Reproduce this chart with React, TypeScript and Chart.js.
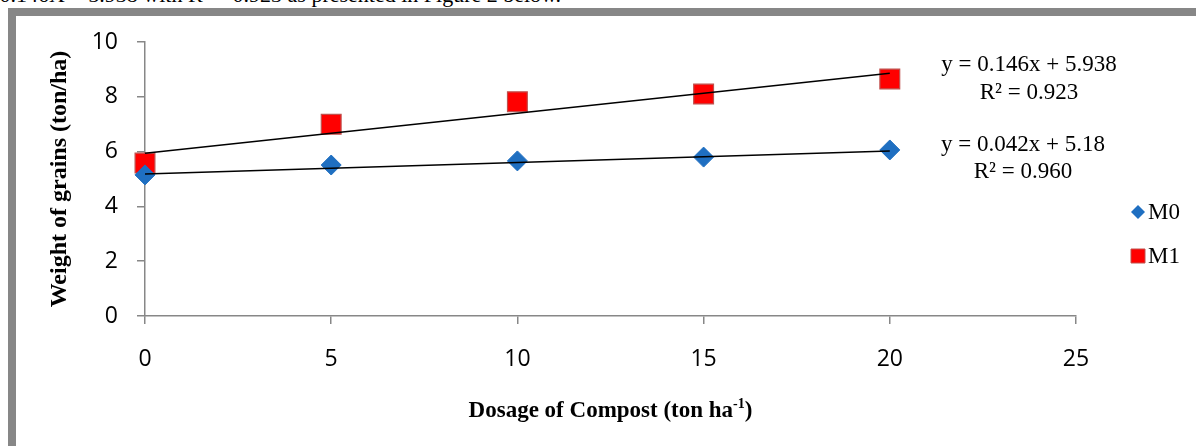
import React, { useEffect, useRef } from 'react';
import { Chart, registerables } from 'chart.js';

Chart.register(...registerables);

// ---- data ----
const doses = [0, 5, 10, 15, 20];
const m0Values = [5.15, 5.51, 5.66, 5.8, 6.06];
const m1Values = [5.58, 7.0, 7.82, 8.1, 8.65];
const trendX = [0, 20];
const trendM0 = [5.18, 6.02];
const trendM1 = [5.938, 8.858];
const seriesNames = ['M0', 'M1'];
const eqM1 = ['y = 0.146x + 5.938', 'R² = 0.923'];
const eqM0 = ['y = 0.042x + 5.18', 'R² = 0.960'];
const xRange = [0, 25];
const yRange = [0, 10];
const xStep = 5;
const yStep = 2;
const yTitle = 'Weight of grains (ton/ha)';
const xTitleMain = 'Dosage of Compost (ton ha';
const xTitleSup = '-1';
const xTitleEnd = ')';
const introText = 'Y = 0.146X + 5.938 with R² = 0.923 as presented in Figure 2 below.';

const BLUE = '#1F6FC1';
const RED = '#FF0000';
const RED_EDGE = '#C0504D';
const AXIS = '#878787';
const SERIF = '"Liberation Serif", "Times New Roman", serif';
const SANS = '"Open Sans", "Noto Sans", sans-serif';

const overlayPlugin = {
  id: 'overlayTexts',
  afterDraw(chart: any) {
    const { ctx, chartArea: a } = chart;
    ctx.save();
    ctx.fillStyle = '#000';
    // y axis title
    ctx.save();
    ctx.font = `bold 24px ${SERIF}`;
    ctx.textAlign = 'center';
    ctx.textBaseline = 'middle';
    ctx.translate(60, (a.top + a.bottom) / 2);
    ctx.rotate(-Math.PI / 2);
    ctx.fillText(yTitle, 0, 0);
    ctx.restore();

    // x axis title with superscript
    const mainFont = `bold 23px ${SERIF}`;
    const supFont = `bold 14px ${SERIF}`;
    ctx.font = mainFont;
    const w1 = ctx.measureText(xTitleMain).width;
    const w3 = ctx.measureText(xTitleEnd).width;
    ctx.font = supFont;
    const w2 = ctx.measureText(xTitleSup).width;
    const total = w1 + w2 + w3;
    let x = (a.left + a.right) / 2 - total / 2;
    const yT = 411;
    ctx.textAlign = 'left';
    ctx.textBaseline = 'middle';
    ctx.font = mainFont;
    ctx.fillText(xTitleMain, x, yT);
    x += w1;
    ctx.font = supFont;
    ctx.fillText(xTitleSup, x, yT - 7);
    x += w2;
    ctx.font = mainFont;
    ctx.fillText(xTitleEnd, x, yT);

    // regression equations
    ctx.font = `23px ${SERIF}`;
    ctx.textAlign = 'center';
    ctx.fillText(eqM1[0], 1029, 65);
    ctx.fillText(eqM1[1], 1029, 93);
    ctx.fillText(eqM0[0], 1023, 145);
    ctx.fillText(eqM0[1], 1023, 172);

    // legend
    const datasets = chart.data.datasets.filter((d: any) => seriesNames.includes(d.label));
    const legendY = [212, 256];
    datasets.forEach((d: any, i: number) => {
      const cy = legendY[i];
      const cx = 1138;
      ctx.fillStyle = d.backgroundColor;
      ctx.beginPath();
      if (d.pointStyle === 'rectRot') {
        const r = 7;
        ctx.moveTo(cx, cy - r);
        ctx.lineTo(cx + r, cy);
        ctx.lineTo(cx, cy + r);
        ctx.lineTo(cx - r, cy);
        ctx.closePath();
        ctx.fill();
      } else {
        const h = 7;
        ctx.rect(cx - h, cy - h, 2 * h, 2 * h);
        ctx.fill();
        ctx.strokeStyle = d.borderColor;
        ctx.lineWidth = 1;
        ctx.stroke();
      }
      ctx.fillStyle = '#000';
      ctx.font = `23px ${SERIF}`;
      ctx.textAlign = 'left';
      ctx.textBaseline = 'middle';
      ctx.fillText(d.label, 1148, cy + 1);
    });
    ctx.restore();
  },
};

export default function App() {
  const canvasRef = useRef<HTMLCanvasElement>(null);

  useEffect(() => {
    const canvas = canvasRef.current;
    if (!canvas) return;
    const chart = new Chart(canvas, {
      type: 'scatter',
      data: {
        datasets: [
          {
            label: 'trend M1',
            type: 'line',
            data: trendX.map((x, i) => ({ x, y: trendM1[i] })),
            borderColor: '#000',
            borderWidth: 1.6,
            pointRadius: 0,
            showLine: true,
            clip: false,
            order: 0,
          } as any,
          {
            label: 'trend M0',
            type: 'line',
            data: trendX.map((x, i) => ({ x, y: trendM0[i] })),
            borderColor: '#000',
            borderWidth: 1.6,
            pointRadius: 0,
            showLine: true,
            clip: false,
            order: 0,
          } as any,
          {
            label: seriesNames[0],
            data: doses.map((x, i) => ({ x, y: m0Values[i] })),
            pointStyle: 'rectRot',
            pointRadius: 10,
            backgroundColor: BLUE,
            borderColor: BLUE,
            borderWidth: 1,
            clip: false,
            order: 1,
          } as any,
          {
            label: seriesNames[1],
            data: doses.map((x, i) => ({ x, y: m1Values[i] })),
            pointStyle: 'rect',
            pointRadius: 14,
            backgroundColor: RED,
            borderColor: RED_EDGE,
            borderWidth: 1.2,
            clip: false,
            order: 1,
          } as any,
        ],
      },
      options: {
        responsive: false,
        animation: false,
        events: [],
        layout: { padding: { left: 0, top: 42, right: 120, bottom: 0 } },
        plugins: {
          legend: { display: false },
          tooltip: { enabled: false },
          title: { display: false },
        },
        scales: {
          x: {
            type: 'linear',
            min: xRange[0],
            max: xRange[1],
            afterFit: (s: any) => {
              s.height = 130;
            },
            ticks: {
              stepSize: xStep,
              autoSkip: false,
              padding: 22,
              color: '#000',
              font: { family: SANS, size: 23 },
              maxRotation: 0,
            },
            grid: {
              drawOnChartArea: false,
              drawTicks: true,
              tickLength: 8,
              color: AXIS,
              lineWidth: 1.5,
            },
            border: { color: AXIS, width: 1.5 },
          },
          y: {
            type: 'linear',
            min: yRange[0],
            max: yRange[1],
            afterFit: (s: any) => {
              s.width = 145;
            },
            ticks: {
              stepSize: yStep,
              autoSkip: false,
              padding: 19,
              color: '#000',
              font: { family: SANS, size: 23 },
            },
            grid: {
              drawOnChartArea: false,
              drawTicks: true,
              tickLength: 8,
              color: AXIS,
              lineWidth: 1.5,
            },
            border: { color: AXIS, width: 1.5 },
          },
        },
      },
      plugins: [overlayPlugin],
    });
    return () => chart.destroy();
  }, []);

  return (
    <div
      style={{
        position: 'fixed',
        left: 0,
        top: 0,
        width: 1196,
        height: 446,
        overflow: 'hidden',
        background: '#fff',
      }}
    >
      <div
        style={{
          position: 'absolute',
          left: -39,
          top: -17,
          fontFamily: SERIF,
          fontSize: 22,
          whiteSpace: 'nowrap',
          color: '#000',
          lineHeight: '24px',
        }}
      >
        {introText}
      </div>
      <div
        style={{
          position: 'absolute',
          left: 8,
          top: 8,
          width: 2000,
          height: 1000,
          borderLeft: `8px solid ${AXIS}`,
          borderTop: `8px solid ${AXIS}`,
          background: '#fff',
        }}
      />
      <canvas
        ref={canvasRef}
        width={1196}
        height={446}
        style={{ position: 'absolute', left: 0, top: 0, width: 1196, height: 446 }}
      />
    </div>
  );
}
